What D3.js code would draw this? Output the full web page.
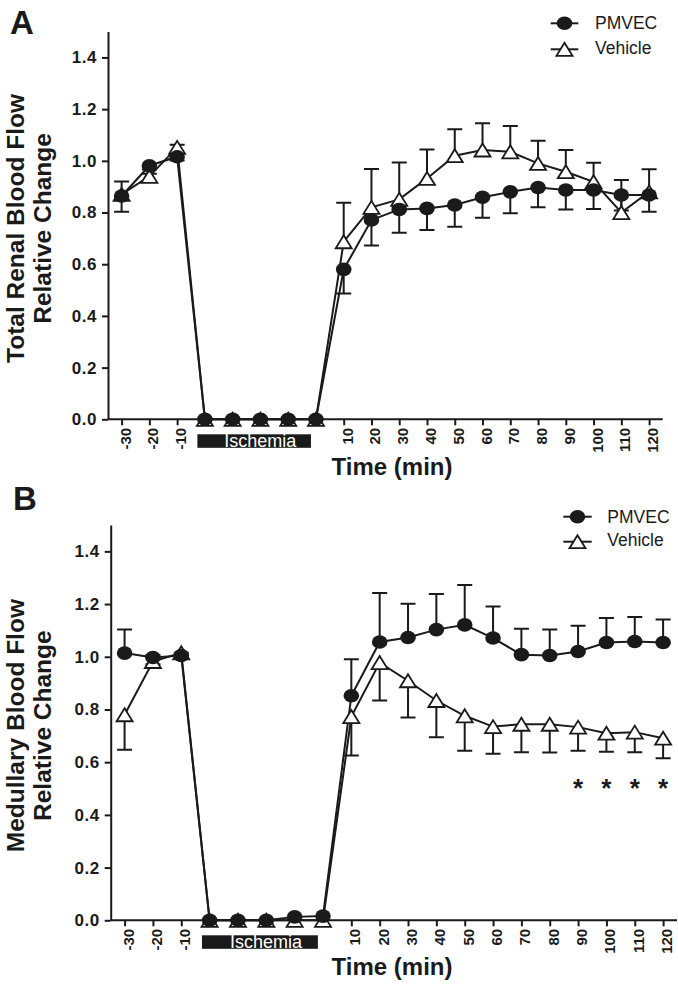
<!DOCTYPE html>
<html><head><meta charset="utf-8">
<script src="https://cdn.jsdelivr.net/npm/d3@7"></script>
<style>
body{margin:0;background:#fff}
svg{display:block}
text{font-family:"Liberation Sans",Arial,Helvetica,sans-serif;fill:#1a1a1a}
</style>
</head><body>
<svg id="chart" width="678" height="986"></svg>
<script>
// ---------- DATA ----------
const categories = ["-30","-20","-10","isc1","isc2","isc3","isc4","isc5","10","20","30","40","50","60","70","80","90","100","110","120"];
const tickCategories = ["-30","-20","-10","10","20","30","40","50","60","70","80","90","100","110","120"];
const ischemiaCategories = ["isc1","isc2","isc3","isc4","isc5"];
const ischemiaLabel = "Ischemia";
const seriesNames = ["PMVEC","Vehicle"];
const yTicks = [0,0.2,0.4,0.6,0.8,1.0,1.2,1.4];
const xTitle = "Time (min)";

// Panel A: total renal blood flow
const pmvecTotal    = [0.864,0.981,1.016,0,0,0,0,0,0.580,0.771,0.812,0.816,0.829,0.859,0.880,0.897,0.887,0.887,0.868,0.868];
const pmvecTotalErr = [0.061,0.015,0.015,0,0,0,0,0,0.093,0.099,0.090,0.084,0.084,0.079,0.083,0.077,0.075,0.073,0.060,0.065];
const vehicleTotal    = [0.870,0.940,1.052,0,0,0,0,0,0.687,0.820,0.851,0.932,1.020,1.042,1.035,0.990,0.958,0.919,0.800,0.880];
const vehicleTotalErr = [0.050,0.010,0.010,0,0,0,0,0,0.151,0.148,0.143,0.112,0.102,0.103,0.100,0.088,0.084,0.074,0.126,0.087];

// Panel B: medullary blood flow
const pmvecMed    = [1.014,0.997,1.005,0,0,0,0.013,0.016,0.852,1.056,1.073,1.103,1.121,1.071,1.008,1.005,1.020,1.054,1.058,1.054];
const pmvecMedErr = [0.089,0.010,0.010,0,0,0,0,0,0.139,0.186,0.128,0.135,0.151,0.120,0.098,0.098,0.098,0.093,0.093,0.087];
const vehicleMed    = [0.780,0.982,1.015,0,0,0,0,0,0.773,0.978,0.909,0.834,0.776,0.735,0.744,0.744,0.733,0.710,0.714,0.691];
const vehicleMedErr = [0.133,0.010,0.010,0,0,0,0,0,0.148,0.144,0.139,0.139,0.133,0.103,0.106,0.107,0.090,0.070,0.076,0.076];
const asteriskCategories = ["90","100","110","120"];
const asteriskLevel = 0.53;

// ---------- DRAW ----------
const svg = d3.select("#chart");
const INK = "#1a1a1a";

function triPath(w,h){ return `M0,${-h/2}L${w/2},${h/2}L${-w/2},${h/2}Z`; }

function drawPanel(o){
  const g = svg.append("g");
  const x = d3.scalePoint().domain(categories).range([o.left, o.right]).padding(0.49);
  const y = d3.scaleLinear().domain([0,1.5]).range([o.bottom, o.top]);

  // y axis
  const ya = g.append("g").attr("transform",`translate(${o.left},0)`)
    .call(d3.axisLeft(y).tickValues(yTicks).tickFormat(d3.format(".1f")).tickSize(6).tickSizeOuter(0).tickPadding(5));
  ya.select(".domain").attr("stroke",INK).attr("stroke-width",2);
  ya.selectAll(".tick line").attr("stroke",INK).attr("stroke-width",2);
  ya.selectAll(".tick text").attr("font-size",17).attr("font-weight","bold").attr("fill",INK)
    .attr("letter-spacing","0.5px").attr("font-family",null);

  // x axis
  const xa = g.append("g").attr("transform",`translate(0,${o.bottom})`)
    .call(d3.axisBottom(x).tickValues(tickCategories).tickSize(6).tickSizeOuter(0));
  xa.select(".domain").attr("stroke",INK).attr("stroke-width",2)
    .attr("d",`M${o.left},0H${o.right}`);
  xa.selectAll(".tick line").attr("stroke",INK).attr("stroke-width",2);
  xa.selectAll(".tick text").attr("font-size",15).attr("font-weight","bold").attr("fill",INK)
    .attr("font-family",null)
    .attr("transform","rotate(-90)").attr("text-anchor","end")
    .attr("x",-8.5).attr("y",8.5).attr("dy",0);

  // ischemia bar
  const step = x.step();
  const bx0 = x(ischemiaCategories[0]) - 0.27*step;
  const bx1 = x(ischemiaCategories[ischemiaCategories.length-1]) - 0.18*step;
  g.append("rect").attr("x",bx0).attr("y",o.bottom+15).attr("width",bx1-bx0).attr("height",13.5).attr("fill",INK);
  g.append("text").attr("x",(bx0+bx1)/2+6).attr("y",o.bottom+27.8).attr("text-anchor","middle")
    .attr("font-size",18).style("fill","#fff").text(ischemiaLabel);

  // x title
  g.append("text").attr("x",392).attr("y",o.xTitleY).attr("text-anchor","middle")
    .attr("font-size",24).attr("font-weight","bold").text(xTitle);

  // y title
  const cy = (o.top+o.bottom)/2 + 3;
  o.yTitle.forEach((t,i)=>{
    g.append("text").attr("transform",`translate(${23.5+i*27.5},${cy}) rotate(-90)`)
      .attr("text-anchor","middle").attr("font-size",24.5).attr("font-weight","bold").text(t);
  });

  // panel letter
  g.append("text").attr("x",o.letterX).attr("y",o.letterY).attr("font-size",33).attr("font-weight","bold").text(o.letter);

  // error bars
  function errBars(vals, errs, dir){
    const d = vals.map((v,i)=>({c:categories[i], v, e:errs[i]})).filter(p=>p.e>0);
    const eg = g.append("g").attr("stroke",INK).attr("stroke-width",2).attr("fill","none");
    eg.selectAll("path").data(d).join("path")
      .attr("d",p=>{const cx=x(p.c), y0=y(p.v), y1=y(p.v+dir*p.e);
        return `M${cx},${y0}V${y1}M${cx-7.5},${y1}H${cx+7.5}`;});
  }
  errBars(o.pm, o.pmErr, o.pmDir);
  errBars(o.ve, o.veErr, o.veDir);

  const line = d3.line().x((v,i)=>x(categories[i])).y(v=>y(v));
  g.append("path").datum(o.ve).attr("d",line).attr("fill","none").attr("stroke",INK).attr("stroke-width",2);
  g.append("path").datum(o.pm).attr("d",line).attr("fill","none").attr("stroke",INK).attr("stroke-width",2);

  g.append("g").selectAll("path").data(o.ve).join("path")
    .attr("transform",(v,i)=>`translate(${x(categories[i])},${y(v)})`)
    .attr("d",triPath(16,13)).attr("fill","#fff").attr("stroke",INK).attr("stroke-width",1.8);
  g.append("g").selectAll("ellipse").data(o.pm).join("ellipse")
    .attr("cx",(v,i)=>x(categories[i])).attr("cy",v=>y(v)).attr("rx",7.8).attr("ry",6.8).attr("fill",INK);

  // legend
  const L = o.legend;
  g.append("line").attr("x1",L.x0).attr("x2",L.x1).attr("y1",L.y1).attr("y2",L.y1).attr("stroke",INK).attr("stroke-width",2);
  g.append("ellipse").attr("cx",(L.x0+L.x1)/2).attr("cy",L.y1).attr("rx",7.8).attr("ry",6.8).attr("fill",INK);
  g.append("line").attr("x1",L.x0).attr("x2",L.x1).attr("y1",L.y2).attr("y2",L.y2).attr("stroke",INK).attr("stroke-width",2);
  g.append("path").attr("transform",`translate(${(L.x0+L.x1)/2},${L.y2})`).attr("d",triPath(16,13))
    .attr("fill","#fff").attr("stroke",INK).attr("stroke-width",1.8);
  g.append("text").attr("x",L.tx).attr("y",L.y1+6).attr("font-size",17.5).text(seriesNames[0]);
  g.append("text").attr("x",L.tx).attr("y",L.y2+4.5).attr("font-size",17.5).text(seriesNames[1]);

  // asterisks
  if (o.stars){
    g.append("g").selectAll("text").data(o.stars).join("text")
      .attr("x",c=>x(c)).attr("y",y(asteriskLevel)).attr("dy","0.62em").attr("text-anchor","middle")
      .attr("font-size",26).attr("font-weight","bold").text("*");
  }
  return {x,y};
}

drawPanel({letter:"A", letterX:10, letterY:34, left:108, right:662.7, top:31.6, bottom:419.3, xTitleY:475,
  yTitle:["Total Renal Blood Flow","Relative Change"],
  pm:pmvecTotal, pmErr:pmvecTotalErr, pmDir:-1, ve:vehicleTotal, veErr:vehicleTotalErr, veDir:1,
  legend:{x0:550.7,x1:578.3,y1:23.3,y2:49.3,tx:595}});

drawPanel({letter:"B", letterX:13, letterY:510, left:110.7, right:677, top:525, bottom:920.3, xTitleY:975,
  yTitle:["Medullary Blood Flow","Relative Change"],
  pm:pmvecMed, pmErr:pmvecMedErr, pmDir:1, ve:vehicleMed, veErr:vehicleMedErr, veDir:-1,
  legend:{x0:563.3,x1:591.7,y1:516.7,y2:541.7,tx:607.3},
  stars:asteriskCategories});
</script>
</body></html>
